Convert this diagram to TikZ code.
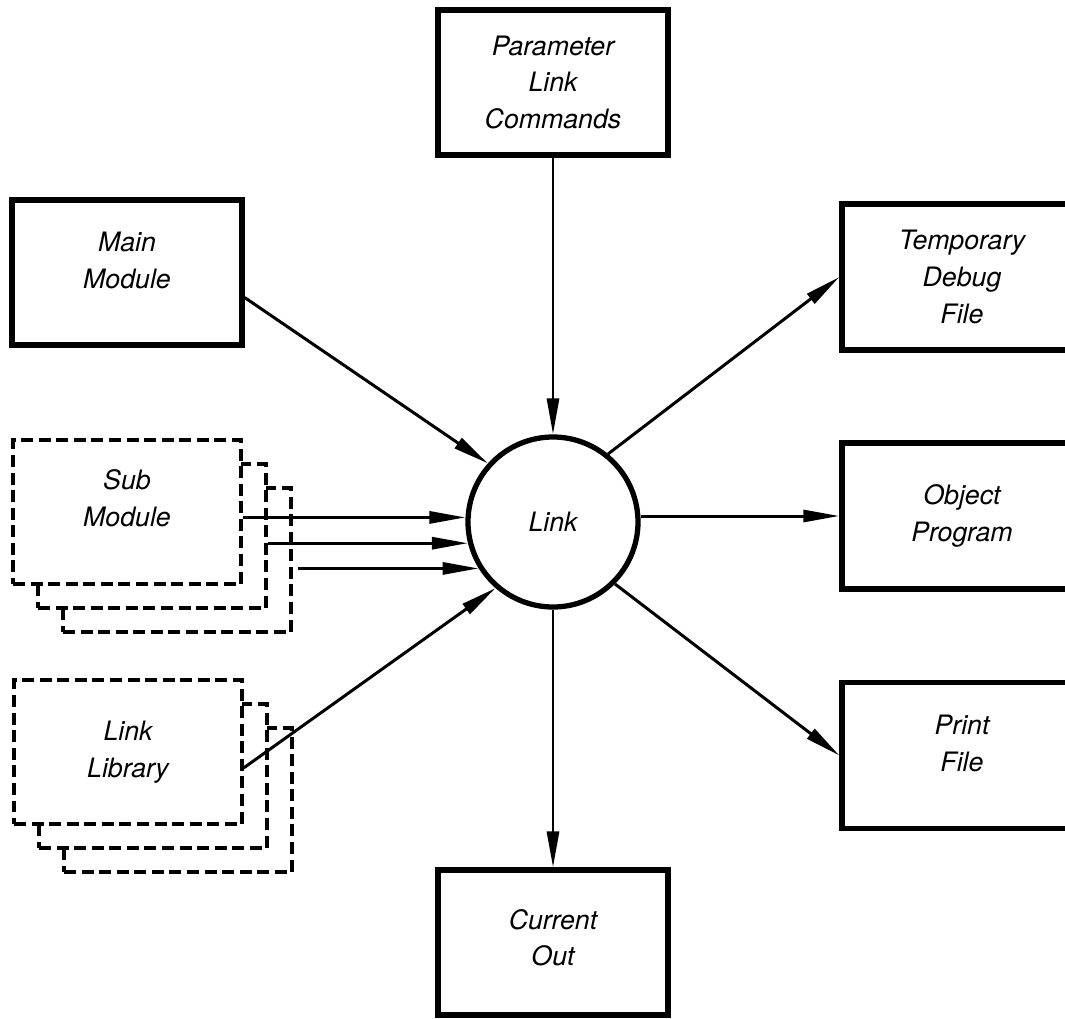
\documentclass[tikz,border=0pt]{standalone}
\usepackage{fontspec}
\setsansfont{TeX Gyre Heros}
\usetikzlibrary{arrows.meta, positioning}

\begin{document}
\begin{tikzpicture}[
    label font/.style={font=\sffamily\itshape\fontsize{7.6}{10.5}\selectfont},
    box/.style={rectangle, draw, line width=1.5pt, fill=white, minimum width=2.3cm, minimum height=1.45cm, align=center, label font},
    sidebox/.style={box, minimum width=2.4cm, minimum height=1.46cm},
    ghost/.style={rectangle, draw, line width=0.9pt, dash pattern=on 3.4pt off 1.6pt, fill=white, minimum width=2.28cm, minimum height=1.44cm, align=center, label font},
    hub/.style={circle, draw, line width=1.5pt, fill=white, minimum size=1.7cm, label font},
    arrow/.style={-{Triangle[length=3.6mm, width=1.2mm]}, line width=0.85pt}
]
\useasboundingbox (0,0) rectangle (10.65,-10.19);

% inputs
\node[box] (par) at (5.53,-0.825) {Parameter\\Link\\Commands};
\node[box, text depth=0.24cm] (main) at (1.27,-2.725) {Main\\Module};
\node[ghost] (subC) at (1.77,-5.60) {};
\node[ghost] (subB) at (1.52,-5.36) {};
\node[ghost, text depth=0.28cm] (sub) at (1.27,-5.12) {Sub\\Module};
\node[ghost] (libC) at (1.78,-8.00) {};
\node[ghost] (libB) at (1.53,-7.76) {};
\node[ghost] (lib) at (1.28,-7.52) {Link\\Library};

% linker
\node[hub] (link) at (5.53,-5.22) {Link};

% outputs
\node[sidebox] (tmp) at (9.62,-2.77) {Temporary\\Debug\\File};
\node[sidebox] (obj) at (9.62,-5.16) {Object\\Program};
\node[sidebox, text depth=0.25cm] (prt) at (9.62,-7.555) {Print\\File};
\node[box, text depth=0.1cm] (cur) at (5.53,-9.425) {Current\\Out};

\draw[arrow] (par) -- (link);
\draw[arrow] ([yshift=-2.5mm]main.east) -- (link.138);
\draw[arrow] (sub.east |- link.177) -- (link.177);
\draw[arrow] (subB.east |- link.194) -- (link.194);
\draw[arrow, shorten <=0.5mm] (subC.east |- link.212) -- (link.212);
\draw[arrow] ([yshift=-1.6mm]lib.east) -- (link.229);
\draw[arrow] (link.51) -- (tmp.west);
\draw[arrow] (obj.west -| link.east) -- (obj.west);
\draw[arrow] (link.315) -- (prt.west);
\draw[arrow] (link) -- (cur);
\end{tikzpicture}
\end{document}
